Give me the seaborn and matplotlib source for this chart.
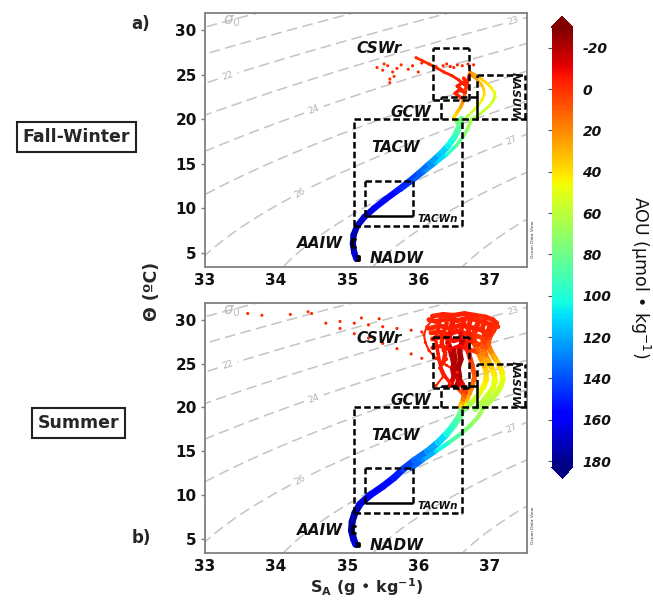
import numpy as np
import matplotlib
matplotlib.use("Agg")
import matplotlib.pyplot as plt
import seaborn as sns
import pandas as pd
from matplotlib.collections import LineCollection
from matplotlib.colors import Normalize
from matplotlib.cm import ScalarMappable

# ---------------- DATA ----------------
# Fall-Winter (panel a)
fw_deep_S = [35.13, 35.10, 35.08, 35.09, 35.14, 35.24, 35.38, 35.54, 35.71, 35.87, 36.02, 36.16, 36.30, 36.42, 36.51, 36.57, 36.61]
fw_deep_T = [4.3, 5.0, 6.0, 7.0, 8.0, 9.0, 10.0, 11.0, 12.0, 13.0, 14.0, 15.0, 16.0, 17.0, 18.0, 19.0, 20.0]
fw_deep_AOU = [158, 165, 172, 175, 172, 168, 162, 157, 152, 146, 138, 128, 118, 108, 98, 88, 78]

fw_deep2_S = [35.75, 35.92, 36.08, 36.24, 36.40, 36.53, 36.63, 36.70, 36.75]
fw_deep2_T = [12.0, 13.0, 14.0, 15.0, 16.0, 17.0, 18.0, 19.0, 20.0]
fw_deep2_AOU = [150, 142, 132, 118, 102, 88, 78, 70, 65]

fw_arc1_S = [36.75, 36.85, 36.93, 37.00, 37.05, 37.08, 37.07, 37.03, 36.97, 36.89, 36.80, 36.73]
fw_arc1_T = [20.0, 20.5, 21.0, 21.5, 22.0, 22.5, 23.0, 23.5, 24.0, 24.5, 25.0, 25.3]
fw_arc1_AOU = [65, 60, 57, 55, 53, 52, 48, 44, 40, 35, 28, 22]

fw_arc2_S = [36.62, 36.70, 36.78, 36.85, 36.90, 36.93, 36.92, 36.88, 36.82, 36.75]
fw_arc2_T = [19.8, 20.4, 21.0, 21.6, 22.2, 22.8, 23.4, 24.0, 24.5, 24.9]
fw_arc2_AOU = [72, 62, 52, 46, 42, 40, 36, 32, 26, 20]

fw_red1_S = [36.55, 36.50, 36.55, 36.60, 36.63, 36.65, 36.66, 36.68, 36.70, 36.72]
fw_red1_T = [19.5, 20.2, 20.8, 21.4, 22.0, 22.6, 23.2, 23.8, 24.4, 25.0]
fw_red1_AOU = [88, 42, 35, 28, 20, 12, 5, 0, -3, -2]

fw_red2_S = [35.97, 36.05, 36.15, 36.25, 36.36, 36.47, 36.57, 36.65]
fw_red2_T = [26.9, 26.6, 26.2, 25.8, 25.3, 24.9, 24.4, 23.9]
fw_red2_AOU = [0, 0, -2, -3, -3, -4, -4, -3]

fw_red4_S = [36.60, 36.52, 36.58, 36.66, 36.55, 36.62, 36.70, 36.64]
fw_red4_T = [22.4, 22.9, 23.3, 23.0, 23.7, 24.1, 23.6, 24.6]
fw_red4_AOU = [-2, -3, -3, -2, -4, -3, -2, -3]

fw_dots_S = [35.42, 35.50, 35.57, 35.60, 35.64, 35.70, 35.76, 35.86, 35.92, 36.00, 35.60, 35.66, 36.05, 35.52,
             36.25, 36.35, 36.45, 36.55, 36.62, 36.70, 36.78, 36.40, 36.50, 36.72]
fw_dots_T = [25.8, 25.5, 26.0, 24.5, 25.3, 25.7, 26.1, 25.6, 26.0, 25.3, 24.1, 24.8, 26.3, 26.2,
             25.9, 26.0, 25.9, 26.1, 26.0, 26.2, 26.1, 26.2, 25.8, 25.9]
fw_dots_AOU = [0, -1, 0, 1, 0, -1, 0, 0, -2, 0, 1, 0, -1, 0,
               -2, -3, -3, -3, -2, -3, -2, -3, -2, -3]

# Summer (panel b)
su_deep_S = [35.12, 35.09, 35.06, 35.07, 35.11, 35.18, 35.32, 35.50, 35.66, 35.79, 35.95, 36.13, 36.28, 36.40, 36.50, 36.58, 36.63]
su_deep_T = [4.4, 5.0, 6.0, 7.0, 8.0, 9.0, 10.0, 11.0, 12.0, 13.0, 14.0, 15.0, 16.0, 17.0, 18.0, 19.0, 20.0]
su_deep_AOU = [158, 165, 174, 176, 174, 168, 163, 158, 153, 147, 138, 128, 116, 104, 95, 85, 75]

su_deep2_S = [35.90, 36.07, 36.25, 36.43, 36.60, 36.74, 36.85, 36.92]
su_deep2_T = [13.0, 14.0, 15.0, 16.0, 17.0, 18.0, 19.0, 20.0]
su_deep2_AOU = [140, 128, 112, 95, 82, 72, 68, 65]

su_up1_S = [36.92, 37.02, 37.10, 37.16, 37.19, 37.18, 37.14, 37.08, 37.02, 36.98, 37.00, 37.06, 37.10]
su_up1_T = [20.0, 20.8, 21.6, 22.4, 23.2, 24.0, 24.8, 25.6, 26.4, 27.2, 28.0, 28.8, 29.6]
su_up1_AOU = [65, 62, 58, 54, 50, 45, 40, 32, 22, 12, 4, 0, -2]

su_up2_S = [36.80, 36.90, 36.98, 37.05, 37.08, 37.07, 37.03, 36.98, 36.93, 36.90, 36.92, 36.98, 37.02]
su_up2_T = [19.8, 20.6, 21.4, 22.2, 23.0, 23.8, 24.6, 25.4, 26.2, 27.0, 27.8, 28.6, 29.4]
su_up2_AOU = [70, 63, 58, 52, 48, 44, 38, 30, 20, 10, 2, -2, -3]

su_up3_S = [36.68, 36.78, 36.86, 36.92, 36.96, 36.96, 36.93, 36.88, 36.84, 36.80, 36.78, 36.80, 36.85]
su_up3_T = [20.0, 20.8, 21.6, 22.4, 23.2, 24.0, 24.8, 25.6, 26.4, 27.2, 28.0, 28.8, 29.8]
su_up3_AOU = [72, 60, 52, 46, 42, 38, 32, 24, 14, 5, 0, -2, -3]

su_up4_S = [36.62, 36.68, 36.72, 36.76, 36.78, 36.78, 36.76, 36.73, 36.70, 36.66, 36.62, 36.60, 36.65]
su_up4_T = [20.0, 20.8, 21.6, 22.4, 23.2, 24.0, 24.8, 25.6, 26.4, 27.2, 28.0, 28.8, 30.0]
su_up4_AOU = [60, 35, 25, 18, 12, 8, 5, 2, -2, -5, -5, -4, -3]

su_up5_S = [36.60, 36.64, 36.66, 36.62, 36.56, 36.52, 36.50, 36.48, 36.45, 36.42, 36.45, 36.50]
su_up5_T = [20.2, 21.0, 21.8, 22.6, 23.4, 24.2, 25.0, 25.8, 26.6, 27.4, 28.5, 30.3]
su_up5_AOU = [40, 18, 5, -8, -14, -18, -20, -20, -18, -14, -8, -4]

su_up6_S = [36.63, 36.55, 36.45, 36.38, 36.33, 36.30, 36.28, 36.26, 36.24, 36.28, 36.32]
su_up6_T = [21.5, 22.2, 22.8, 23.5, 24.3, 25.2, 26.1, 27.0, 27.9, 29.0, 30.4]
su_up6_AOU = [10, 0, -4, -6, -5, -4, -5, -6, -4, -3, -2]

su_up7_S = [36.55, 36.40, 36.25, 36.15, 36.10, 36.08, 36.12, 36.20]
su_up7_T = [24.0, 24.8, 25.6, 26.5, 27.4, 28.3, 29.2, 30.0]
su_up7_AOU = [-3, -4, -4, -3, -3, -2, -2, -2]

su_up8_S = [36.20, 36.35, 36.50, 36.65, 36.80, 36.95, 37.05, 37.10]
su_up8_T = [30.4, 30.6, 30.5, 30.7, 30.5, 30.3, 30.0, 29.6]
su_up8_AOU = [-2, -3, -3, -4, -3, -2, -2, -2]

su_up9_S = [36.15, 36.30, 36.45, 36.60, 36.75, 36.90, 37.00]
su_up9_T = [29.0, 29.3, 29.0, 29.4, 29.1, 28.8, 28.2]
su_up9_AOU = [-2, -3, -4, -5, -4, -3, -1]

su_up10_S = [36.20, 36.35, 36.50, 36.62, 36.75, 36.85, 36.95]
su_up10_T = [27.8, 28.1, 27.6, 27.9, 27.5, 27.2, 26.8]
su_up10_AOU = [-3, -5, -8, -6, -3, 2, 8]

su_up11_S = [36.55, 36.58, 36.56, 36.60, 36.58, 36.62, 36.60]
su_up11_T = [22.5, 23.5, 24.5, 25.5, 26.5, 27.5, 28.5]
su_up11_AOU = [-15, -20, -22, -22, -20, -18, -12]

su_up12_S = [36.25, 36.35, 36.30, 36.40, 36.35, 36.45]
su_up12_T = [22.5, 23.5, 24.5, 25.5, 26.5, 27.5]
su_up12_AOU = [-3, -3, -4, -4, -5, -5]

su_up13_S = [36.15, 36.25, 36.40, 36.55, 36.70, 36.85, 37.00, 37.12]
su_up13_T = [30.0, 29.8, 30.1, 29.9, 30.2, 29.9, 29.5, 29.2]
su_up13_AOU = [-2, -3, -3, -4, -3, -2, -2, -1]

su_up14_S = [36.18, 36.30, 36.42, 36.55, 36.68, 36.80, 36.92]
su_up14_T = [28.5, 28.6, 28.3, 28.7, 28.4, 28.2, 27.9]
su_up14_AOU = [-2, -3, -5, -6, -4, 0, 4]

su_up15_S = [36.20, 36.32, 36.45, 36.58, 36.70, 36.82]
su_up15_T = [26.8, 27.0, 26.6, 27.0, 26.7, 26.3]
su_up15_AOU = [-3, -4, -8, -10, -4, 5]

su_up16_S = [36.35, 36.38, 36.33, 36.36, 36.40, 36.38]
su_up16_T = [25.0, 26.2, 27.4, 28.6, 29.6, 30.5]
su_up16_AOU = [-4, -5, -5, -4, -3, -2]

su_up17_S = [36.95, 36.92, 36.95, 36.90, 36.95]
su_up17_T = [26.0, 27.0, 28.0, 29.0, 30.2]
su_up17_AOU = [18, 8, 0, -2, -2]

su_up18_S = [36.72, 36.70, 36.74, 36.70, 36.75]
su_up18_T = [26.0, 27.0, 28.0, 29.0, 30.4]
su_up18_AOU = [0, -4, -5, -4, -3]

su_up19_S = [36.45, 36.50, 36.48, 36.52, 36.50]
su_up19_T = [22.5, 23.5, 24.5, 25.5, 26.5]
su_up19_AOU = [-10, -15, -18, -20, -18]

su_dots_S = [33.60, 33.80, 34.20, 34.45, 34.50, 34.70, 34.90, 35.10, 35.30, 35.50, 35.70, 35.90, 36.05,
             34.90, 35.10, 35.30, 35.50, 35.70, 35.90, 36.05, 35.20, 35.45]
su_dots_T = [30.7, 30.5, 30.6, 30.9, 30.7, 29.6, 29.0, 28.4, 27.9, 27.3, 26.7, 26.1, 25.6,
             29.8, 29.6, 29.4, 29.2, 29.0, 28.8, 28.6, 30.2, 30.1]
su_dots_AOU = [-1, 0, -2, 0, -1, -2, -2, -1, -2, -3, -2, -2, -3,
               -1, -2, -2, -3, -2, -2, -3, -1, -2]

# colorbar / axis ticks
aou_ticks = [-20, 0, 20, 40, 60, 80, 100, 120, 140, 160, 180]
sal_ticks = [33, 34, 35, 36, 37]
temp_ticks = [5, 10, 15, 20, 25, 30]

# ---------------- STYLE ----------------
sns.set_style("white")
plt.rcParams['font.family'] = ['DejaVu Sans']
plt.rcParams['axes.unicode_minus'] = False

cmap = plt.get_cmap('jet_r')
norm = Normalize(vmin=-30, vmax=183)

fig = plt.figure(figsize=(6.53, 6.0), dpi=100)
ax_top = fig.add_axes([0.314, 0.555, 0.493, 0.423])
ax_bot = fig.add_axes([0.314, 0.078, 0.493, 0.417])
cax = fig.add_axes([0.845, 0.203, 0.032, 0.770])


def sigma0(SA, CT):
    S = SA * 35.0 / 35.16504
    T = CT
    rw = (999.842594 + 6.793952e-2 * T - 9.095290e-3 * T**2 + 1.001685e-4 * T**3
          - 1.120083e-6 * T**4 + 6.536332e-9 * T**5)
    A = 8.24493e-1 - 4.0899e-3 * T + 7.6438e-5 * T**2 - 8.2467e-7 * T**3 + 5.3875e-9 * T**4
    B = -5.72466e-3 + 1.0227e-4 * T - 1.6546e-6 * T**2
    return rw + A * S + B * S**1.5 + 4.8314e-4 * S**2 - 1000.0


def draw_profiles(ax, profiles):
    for S, T, A, lw in profiles:
        pts = np.column_stack([S, T])
        segs = [pts[i:i + 2] for i in range(len(S) - 1)]
        vals = [(A[i] + A[i + 1]) / 2.0 for i in range(len(S) - 1)]
        lc = LineCollection(segs, cmap=cmap, norm=norm, linewidths=lw, capstyle='round', zorder=2)
        lc.set_array(np.array(vals))
        ax.add_collection(lc)


DASH = (0, (2.6, 1.3))


def box(ax, x0, x1, y0, y1, solid_sides=()):
    sides = {'bottom': ([x0, x1], [y0, y0]), 'top': ([x0, x1], [y1, y1]),
             'left': ([x0, x0], [y0, y1]), 'right': ([x1, x1], [y0, y1])}
    for k, (xs, ys) in sides.items():
        ls = '-' if k in solid_sides else DASH
        ax.plot(xs, ys, color='black', lw=1.8, ls=ls, zorder=4, solid_capstyle='butt')


SS, TT = np.meshgrid(np.linspace(32.5, 38.0, 300), np.linspace(2.0, 33.0, 300))
SIG = sigma0(SS, TT)
label_pos = {22: (33.32, 24.8), 24: (34.48, 22.0), 26: (34.34, 11.7), 27: (37.32, 17.6), 23: (37.34, 30.8)}


def setup_panel(ax, profiles, dot_sets):
    plain_levels = [l for l in range(19, 30) if l not in label_pos]
    ax.contour(SS, TT, SIG, levels=plain_levels, colors='#c4c4c4',
               linewidths=1.1, linestyles=[(0, (7, 3.5))], zorder=1)
    for lev, pos in label_pos.items():
        cs = ax.contour(SS, TT, SIG, levels=[lev], colors='#c4c4c4',
                        linewidths=1.1, linestyles=[(0, (7, 3.5))], zorder=1)
        ax.clabel(cs, manual=[pos], inline=True, fontsize=6.5,
                  colors='#b0b0b0', fmt='%d', inline_spacing=3)
    ax.text(33.38, 31.0, r'$\sigma_0$', color='#bdbdbd', fontsize=11, ha='center', va='center')

    draw_profiles(ax, profiles)
    frames = []
    for S, T, A, lw in profiles:
        frames.append(pd.DataFrame({'S': S, 'T': T, 'AOU': A}))
    df = pd.concat(frames, ignore_index=True)
    sns.scatterplot(data=df, x='S', y='T', hue='AOU', palette=cmap, hue_norm=norm,
                    s=5, linewidth=0, legend=False, ax=ax, zorder=3)
    for S, T, A in dot_sets:
        dd = pd.DataFrame({'S': S, 'T': T, 'AOU': A})
        sns.scatterplot(data=dd, x='S', y='T', hue='AOU', palette=cmap, hue_norm=norm,
                        s=5, linewidth=0, legend=False, ax=ax, zorder=3)

    # water-mass boxes
    box(ax, 35.10, 36.62, 8.0, 20.0)
    box(ax, 35.25, 35.92, 9.1, 13.1, solid_sides=('bottom',))
    box(ax, 36.21, 36.71, 22.2, 28.0)
    ax.plot([36.32, 36.82], [22.45, 22.45], color='black', lw=1.8, ls=DASH, zorder=4)
    ax.plot([36.32, 36.32], [20.0, 22.45], color='black', lw=1.8, ls=DASH, zorder=4)
    ax.plot([36.82, 36.82], [20.0, 22.45], color='black', lw=1.8, ls='-', zorder=4)
    ax.plot([36.82, 36.82], [22.45, 25.0], color='black', lw=1.8, ls=DASH, zorder=4)
    ax.plot([36.82, 37.50], [25.0, 25.0], color='black', lw=1.8, ls=DASH, zorder=4)
    ax.plot([37.50, 37.50], [20.0, 25.0], color='black', lw=1.8, ls=DASH, zorder=4)
    ax.plot([36.62, 37.53], [20.0, 20.0], color='black', lw=1.8, ls=DASH, zorder=4)
    # AAIW / NADW markers
    ax.plot([35.11, 35.07, 35.07, 35.11], [6.5, 6.5, 5.7, 5.7], color='black', lw=2, zorder=4)
    ax.plot([35.12, 35.17, 35.17, 35.12], [4.6, 4.6, 4.2, 4.2], color='black', lw=2, zorder=4)

    lab = dict(fontweight='bold', style='italic', color='#111111', zorder=5,
               ha='center', va='center')
    ax.text(35.45, 27.9, 'CSWr', fontsize=11, **lab)
    ax.text(35.9, 20.8, 'GCW', fontsize=11, **lab)
    ax.text(35.68, 16.8, 'TACW', fontsize=11, **lab)
    ax.text(36.28, 8.75, 'TACWn', fontsize=7.5, **lab)
    ax.text(37.36, 22.6, 'NASUW', fontsize=8, rotation=-90, **lab)
    ax.text(34.62, 6.0, 'AAIW', fontsize=11, **lab)
    ax.text(35.70, 4.3, 'NADW', fontsize=11, **lab)
    ax.text(1.018, 0.11, 'Ocean Data View', transform=ax.transAxes, rotation=90,
            fontsize=3.2, color='#333333', ha='center', va='center')

    ax.set_xlim(33.0, 37.53)
    ax.set_ylim(3.4, 31.9)
    ax.set_xticks(sal_ticks)
    ax.set_yticks(temp_ticks)
    ax.set_xlabel('')
    ax.set_ylabel('')
    for sp in ax.spines.values():
        sp.set_color('#808080')
        sp.set_linewidth(1.3)
    ax.tick_params(axis='both', labelsize=11, colors='#808080', labelcolor='#111111')
    ax.tick_params(axis='x', length=0, pad=4)
    ax.tick_params(axis='y', length=3, width=1, pad=3, left=True)
    for t in ax.get_xticklabels() + ax.get_yticklabels():
        t.set_fontweight('bold')


fw_profiles = [
    (fw_deep_S, fw_deep_T, fw_deep_AOU, 4.5),
    (fw_deep2_S, fw_deep2_T, fw_deep2_AOU, 2.5),
    (fw_arc1_S, fw_arc1_T, fw_arc1_AOU, 2.0),
    (fw_arc2_S, fw_arc2_T, fw_arc2_AOU, 1.8),
    (fw_red1_S, fw_red1_T, fw_red1_AOU, 2.5),
    (fw_red2_S, fw_red2_T, fw_red2_AOU, 2.0),
    (fw_red4_S, fw_red4_T, fw_red4_AOU, 2.5),
]
su_profiles = [
    (su_deep_S, su_deep_T, su_deep_AOU, 5.0),
    (su_deep2_S, su_deep2_T, su_deep2_AOU, 3.0),
    (su_up1_S, su_up1_T, su_up1_AOU, 4.0),
    (su_up2_S, su_up2_T, su_up2_AOU, 4.0),
    (su_up3_S, su_up3_T, su_up3_AOU, 4.0),
    (su_up4_S, su_up4_T, su_up4_AOU, 3.5),
    (su_up5_S, su_up5_T, su_up5_AOU, 4.0),
    (su_up6_S, su_up6_T, su_up6_AOU, 2.5),
    (su_up7_S, su_up7_T, su_up7_AOU, 1.5),
    (su_up8_S, su_up8_T, su_up8_AOU, 3.5),
    (su_up9_S, su_up9_T, su_up9_AOU, 3.5),
    (su_up10_S, su_up10_T, su_up10_AOU, 3.5),
    (su_up11_S, su_up11_T, su_up11_AOU, 4.0),
    (su_up12_S, su_up12_T, su_up12_AOU, 1.5),
    (su_up13_S, su_up13_T, su_up13_AOU, 3.5),
    (su_up14_S, su_up14_T, su_up14_AOU, 3.5),
    (su_up15_S, su_up15_T, su_up15_AOU, 3.0),
    (su_up16_S, su_up16_T, su_up16_AOU, 3.0),
    (su_up17_S, su_up17_T, su_up17_AOU, 3.5),
    (su_up18_S, su_up18_T, su_up18_AOU, 3.5),
    (su_up19_S, su_up19_T, su_up19_AOU, 3.5),
]

setup_panel(ax_top, fw_profiles, [(fw_dots_S, fw_dots_T, fw_dots_AOU)])
setup_panel(ax_bot, su_profiles, [(su_dots_S, su_dots_T, su_dots_AOU)])

# colorbar
sm = ScalarMappable(norm=norm, cmap=cmap)
cb = fig.colorbar(sm, cax=cax, extend='both', extendfrac=0.025, ticks=aou_ticks)
cb.outline.set_visible(False)
cax.invert_yaxis()
cax.tick_params(axis='y', left=True, right=False, labelleft=False, labelright=True,
                length=3, colors='#555555', labelcolor='#111111', labelsize=10, pad=4)
for t in cax.get_yticklabels():
    t.set_fontweight('bold')
    t.set_style('italic')
fig.text(640 / 653, 1 - 277 / 600, 'AOU (µmol • kg$^{-1}$)', rotation=270, fontsize=12.5,
         ha='center', va='center', color='#111111')

# figure texts
fig.text(152 / 653, 1 - 291 / 600, 'Θ (ºC)', rotation=90, fontsize=12.5,
         fontweight='bold', ha='center', va='center')
fig.text(367 / 653, 0.004, r'S$_\mathbf{A}$ (g • kg$^\mathbf{-1}$)', fontsize=11.5,
         fontweight='bold', ha='center', va='bottom')
fig.text(141 / 653, 1 - 24 / 600, 'a)', fontsize=12, fontweight='bold', ha='center', va='center')
fig.text(141 / 653, 1 - 538 / 600, 'b)', fontsize=12, fontweight='bold', ha='center', va='center')
fig.text(76.5 / 653, 1 - 137 / 600, 'Fall-Winter', fontsize=12.5, fontweight='bold',
         ha='center', va='center',
         bbox=dict(boxstyle='square,pad=0.35', fc='white', ec='#222222', lw=1.5))
fig.text(78.5 / 653, 1 - 423 / 600, 'Summer', fontsize=12.5, fontweight='bold',
         ha='center', va='center',
         bbox=dict(boxstyle='square,pad=0.35', fc='white', ec='#222222', lw=1.5))

fig.savefig('out.png', dpi=100)
